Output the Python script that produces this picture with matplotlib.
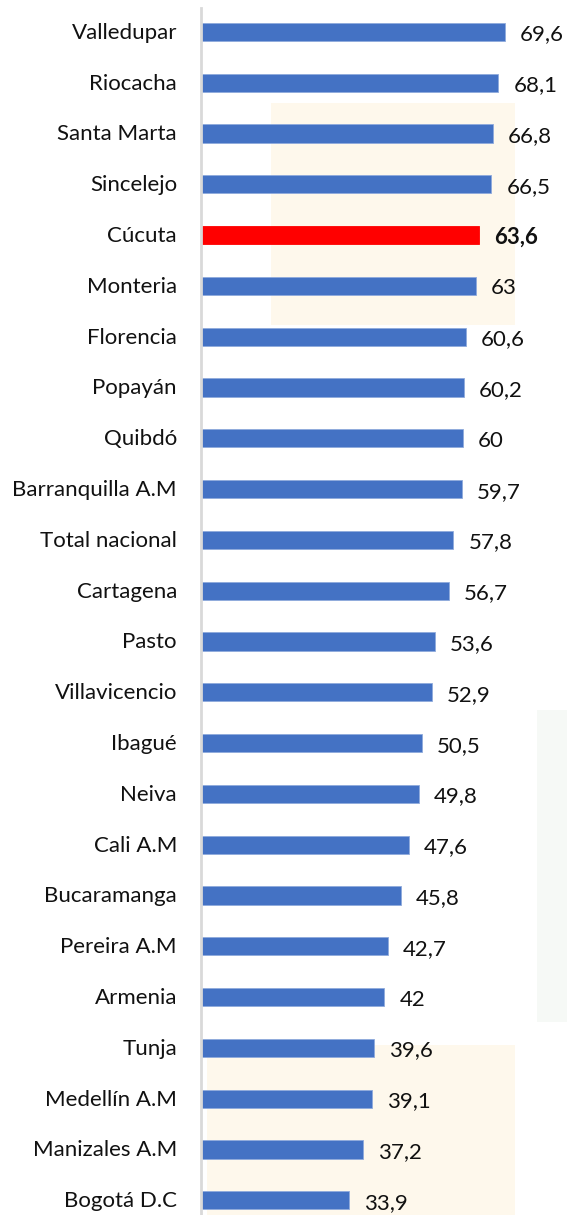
import matplotlib.pyplot as plt
from matplotlib.patches import Rectangle

ciudades = ["Valledupar", "Riocacha", "Santa Marta", "Sincelejo", "Cúcuta", "Monteria",
            "Florencia", "Popayán", "Quibdó", "Barranquilla A.M", "Total nacional",
            "Cartagena", "Pasto", "Villavicencio", "Ibagué", "Neiva", "Cali A.M",
            "Bucaramanga", "Pereira A.M", "Armenia", "Tunja", "Medellín A.M",
            "Manizales A.M", "Bogotá D.C"]
valores = [69.6, 68.1, 66.8, 66.5, 63.6, 63, 60.6, 60.2, 60, 59.7, 57.8, 56.7, 53.6,
           52.9, 50.5, 49.8, 47.6, 45.8, 42.7, 42, 39.6, 39.1, 37.2, 33.9]
destacada = "Cúcuta"

plt.rcParams['font.family'] = ['Lato', 'DejaVu Sans']

W, H = 567, 1215
fig = plt.figure(figsize=(W / 100, H / 100), dpi=100)

# faint background boxes seen in the source image, on an axes behind the chart
bg = fig.add_axes([0, 0, 1, 1], zorder=-1)
bg.set_xlim(0, W)
bg.set_ylim(H, 0)
bg.axis('off')
for x0, y0, x1, y1, c in [(271, 103, 515, 325, '#fef8ec'),
                          (537, 710, 567, 1022, '#f6f9f6'),
                          (207, 1045, 515, 1215, '#fef8ec')]:
    bg.add_patch(Rectangle((x0, y0), x1 - x0, y1 - y0, color=c, lw=0))

ax = fig.add_axes([201 / W, 0, 366 / W, 1 - 8 / H])
ax.patch.set_alpha(0)

colores = ['#ff0000' if c == destacada else '#4472c4' for c in ciudades]
bordes = ['#ff0000' if c == destacada else '#8faadc' for c in ciudades]
y = list(range(len(ciudades)))
ax.barh(y, valores, height=0.36, color=colores, edgecolor=bordes, linewidth=0.6)

ax.set_xlim(0, 366 / 4.368)
ax.set_ylim(23.29, -0.47)

for i, (c, v) in enumerate(zip(ciudades, valores)):
    txt = f"{v:g}".replace('.', ',')
    bold = c == destacada
    ax.text(v + 3.4, i + 0.05, txt, va='center', ha='left', fontsize=16,
            fontweight='bold' if bold else 'normal', color='#111111')
    ax.text(-5.5, i + 0.02, c, va='center', ha='right', fontsize=16, color='#111111')

ax.set_xticks([])
ax.set_yticks([])
for s in ['top', 'right', 'bottom']:
    ax.spines[s].set_visible(False)
ax.spines['left'].set_color('#d9d9d9')
ax.spines['left'].set_linewidth(2)

fig.savefig('out.png', dpi=100)
